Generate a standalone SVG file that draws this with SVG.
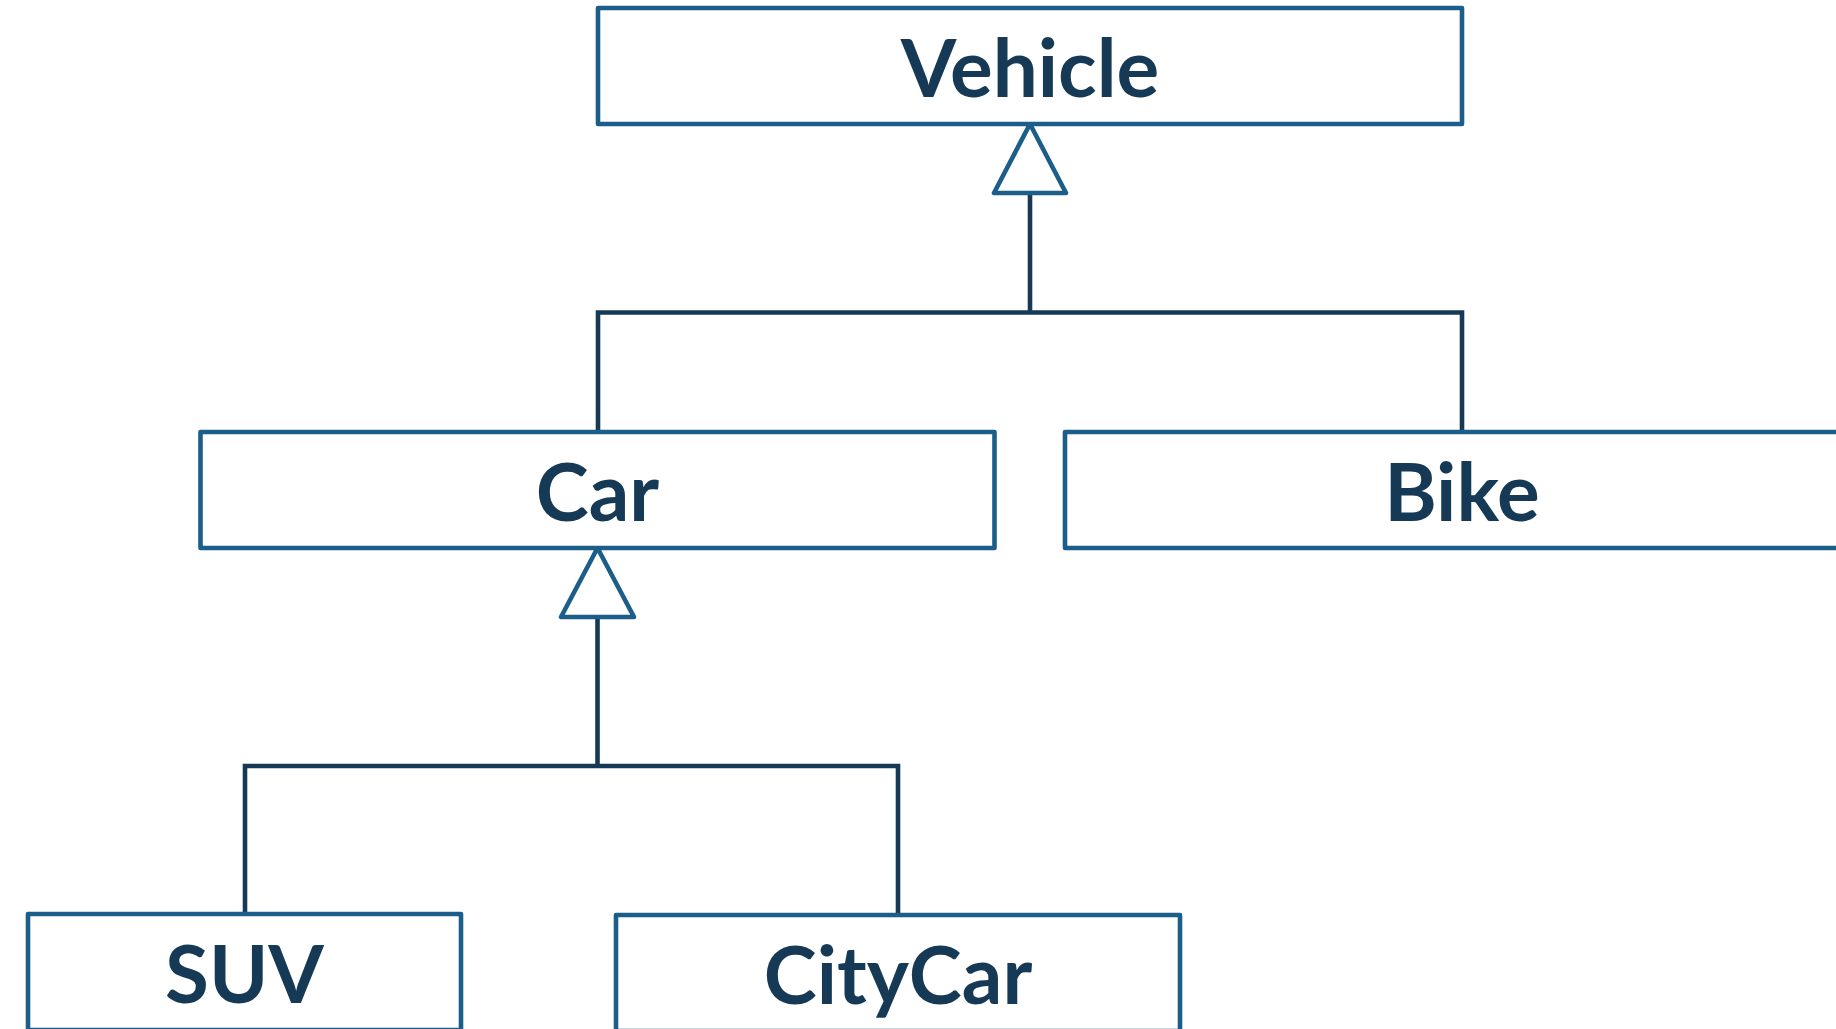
<svg xmlns="http://www.w3.org/2000/svg" width="1836" height="1029" viewBox="0 0 1836 1029">
<style>
.box{fill:#ffffff;stroke:#1b5e8a;stroke-width:4.6;stroke-linejoin:round}
.lbl{font-family:Lato,"Liberation Sans",sans-serif;font-weight:700;font-size:80px;fill:#163a55;text-anchor:middle}
.conn{fill:none;stroke:#163a55;stroke-width:4.6}
.tri{fill:#ffffff;stroke:#1b5e8a;stroke-width:4.6;stroke-linejoin:round}
</style>
<rect width="1836" height="1029" fill="#ffffff"/>
<g id="connectors">
<path class="conn" d="M1030 193 V312.5 M598 431.5 V312.5 H1462 V431.5"/>
<path class="conn" d="M597.5 617 V766 M245 913.5 V766 H898 V914.5"/>
<polygon class="tri" points="1030,124 994,193 1066,193"/>
<polygon class="tri" points="597.5,548 561,617 634,617"/>
</g>
<g id="vehicle">
<rect class="box" x="598" y="8" width="864" height="116"/>
<text class="lbl" x="1030" y="97">Vehicle</text>
</g>
<g id="car">
<rect class="box" x="200.5" y="432" width="794" height="116"/>
<text class="lbl" x="597.5" y="521">Car</text>
</g>
<g id="bike">
<rect class="box" x="1065" y="432" width="794" height="116"/>
<text class="lbl" x="1462" y="521">Bike</text>
</g>
<g id="suv">
<rect class="box" x="28" y="914" width="433" height="116"/>
<text class="lbl" x="244.5" y="1003">SUV</text>
</g>
<g id="citycar">
<rect class="box" x="616" y="915" width="564" height="116"/>
<text class="lbl" x="898" y="1004">CityCar</text>
</g>
</svg>
